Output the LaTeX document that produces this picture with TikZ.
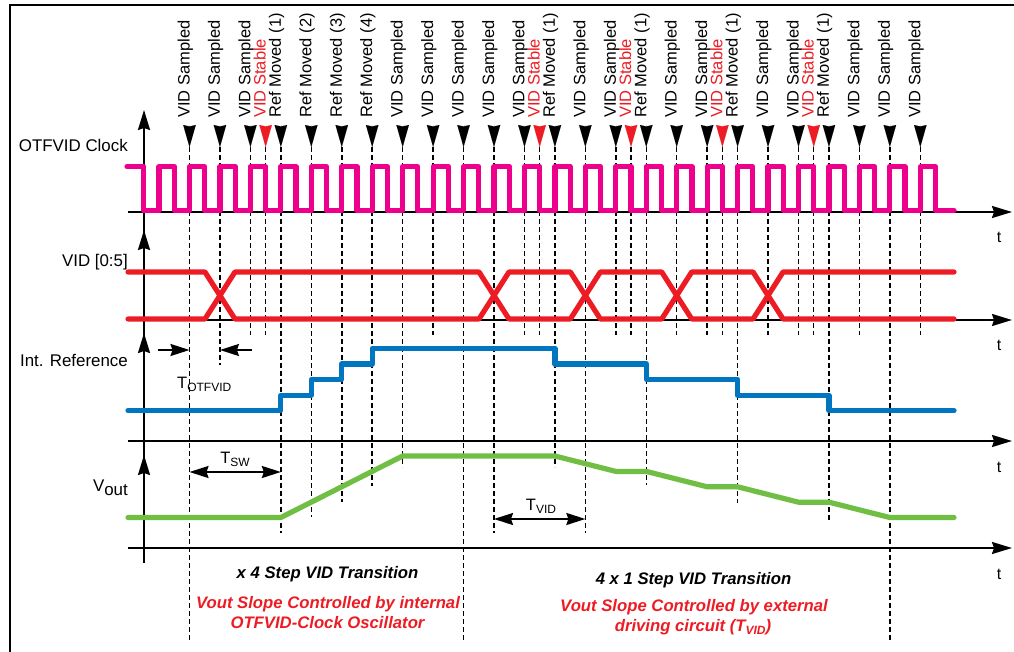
\documentclass[tikz,border=0pt]{standalone}
\usepackage{fontspec}
\setmainfont{Liberation Sans}
\usetikzlibrary{arrows.meta}
\definecolor{clockpink}{RGB}{236,0,140}
\definecolor{vidred}{RGB}{237,28,36}
\definecolor{refblue}{RGB}{0,118,192}
\definecolor{voutgreen}{RGB}{112,191,68}
\newcommand{\tpos}[1]{189.5+30.45*(#1)}
\newcommand{\lowsub}[1]{\raisebox{-3pt}{\fontsize{12}{12}\selectfont #1}}

\begin{document}
\begin{tikzpicture}[
    x=1pt, y=-1pt,
    font=\fontsize{16.5}{19}\selectfont,
    taxis/.style={line width=1.8pt, -{Stealth[length=20pt, width=12pt, inset=2pt]}},
    dimarrow/.style={line width=1.8pt, -{Stealth[length=19pt, width=12pt, inset=2pt]}},
    dimboth/.style={line width=1.8pt, {Stealth[length=19pt, width=12pt, inset=2pt]}-{Stealth[length=19pt, width=12pt, inset=2pt]}},
    wave/.style={line width=5.2pt, line join=round, line cap=round},
    vguide/.style={line width=1.5pt, dash pattern=on 5pt off 3pt},
    evtip/.style={line width=0.01pt, -{Stealth[length=22pt, width=12.5pt, inset=1.5pt]}},
    evlabel/.style={rotate=90, anchor=base west, inner sep=0pt},
    siglabel/.style={anchor=base east, inner sep=0pt, font=\fontsize{16.9}{19}\selectfont},
    tlabel/.style={inner sep=0pt, font=\fontsize{16}{18}\selectfont},
    note/.style={anchor=base, inner sep=0pt, font=\fontsize{16.7}{19}\selectfont\bfseries\itshape}
]
    \useasboundingbox (0,0) rectangle (1014,652);
    \draw[line width=2pt] (9.5,5) rectangle (1040,680);

    \foreach \k/\col/\txt/\yend [count=\n] in {
        0/black/VID Sampled/640, 1/black/VID Sampled/365, 2/black/VID Sampled/335,
        2.5/vidred/VID Stable/335, 3/black/Ref Moved (1)/533, 4/black/Ref Moved (2)/517,
        5/black/Ref Moved (3)/502, 6/black/Ref Moved (4)/486, 7/black/VID Sampled/467,
        8/black/VID Sampled/335, 9/black/VID Sampled/640, 10/black/VID Sampled/533,
        11/black/VID Sampled/335, 11.5/vidred/VID Stable/335, 12/black/Ref Moved (1)/467,
        13/black/VID Sampled/533, 14/black/VID Sampled/335, 14.5/vidred/VID Stable/335,
        15/black/Ref Moved (1)/485, 16/black/VID Sampled/335, 17/black/VID Sampled/335,
        17.5/vidred/VID Stable/335, 18/black/Ref Moved (1)/503, 19/black/VID Sampled/335,
        20/black/VID Sampled/335, 20.5/vidred/VID Stable/335, 21/black/Ref Moved (1)/520,
        22/black/VID Sampled/335, 23/black/VID Sampled/640, 24/black/VID Sampled/335}
    {
        \draw[vguide] ({\tpos{\k}},147) -- ({\tpos{\k}},\yend);
        \draw[evtip, \col] ({\tpos{\k}},125) -- ({\tpos{\k}},147);
        \node[evlabel, text=\col] (ev\n) at ({\tpos{\k}},118) {\txt};
    }

    \draw[line width=1.8pt] (144,563) -- (144,212);
    \draw[taxis] (144,212) -- (144,110);
    \draw[taxis] (144,320) -- (144,230);
    \draw[taxis] (144,441) -- (144,333);
    \draw[taxis] (144,548) -- (144,455);
    \draw[taxis] (128,212) -- (1012,212);
    \draw[taxis] (128,320) -- (1012,320);
    \draw[taxis] (128,441) -- (1012,441);
    \draw[taxis] (128,548) -- (1012,548);

    \node[siglabel] (clk) at (128,151.5) {OTFVID Clock};
    \node[siglabel] (vid) at (128,267) {VID [0:5]};
    \node[siglabel] (iref) at (128,366.5) {Int. Reference};
    \node[siglabel] (vout) at (128,491) {V\raisebox{-4pt}{out}};
    \node[tlabel] (t1) at (999,237) {t};
    \node[tlabel] (t2) at (999,345) {t};
    \node[tlabel] (t3) at (999,467) {t};
    \node[tlabel] (t4) at (999,574) {t};

    \draw[wave, clockpink] (127,166.7) -- ({\tpos{-1.5}},166.7) -- ({\tpos{-1.5}},210.7)
        \foreach \k in {-1,...,24} {
            -- ({\tpos{\k}},210.7) -- ({\tpos{\k}},166.7)
            -- ({\tpos{\k}+15.2},166.7) -- ({\tpos{\k}+15.2},210.7)
        } -- (954,210.7);

    \draw[wave, vidred] (128,272) -- ({\tpos{1}-15},272) -- ({\tpos{1}+15},319)
        -- ({\tpos{10}-15},319) -- ({\tpos{10}+15},272) -- ({\tpos{13}-15},272)
        -- ({\tpos{13}+15},319) -- ({\tpos{16}-15},319) -- ({\tpos{16}+15},272)
        -- ({\tpos{19}-15},272) -- ({\tpos{19}+15},319) -- (954,319);
    \draw[wave, vidred] (128,319) -- ({\tpos{1}-15},319) -- ({\tpos{1}+15},272)
        -- ({\tpos{10}-15},272) -- ({\tpos{10}+15},319) -- ({\tpos{13}-15},319)
        -- ({\tpos{13}+15},272) -- ({\tpos{16}-15},272) -- ({\tpos{16}+15},319)
        -- ({\tpos{19}-15},319) -- ({\tpos{19}+15},272) -- (954,272);

    \draw[wave, refblue] (128,410.7) -- ({\tpos{3}},410.7) -- ({\tpos{3}},395.1)
        -- ({\tpos{4}},395.1) -- ({\tpos{4}},379.5) -- ({\tpos{5}},379.5)
        -- ({\tpos{5}},363.9) -- ({\tpos{6}},363.9) -- ({\tpos{6}},348.3)
        -- ({\tpos{12}},348.3) -- ({\tpos{12}},363.9) -- ({\tpos{15}},363.9)
        -- ({\tpos{15}},379.5) -- ({\tpos{18}},379.5) -- ({\tpos{18}},395.1)
        -- ({\tpos{21}},395.1) -- ({\tpos{21}},410.7) -- (954,410.7);

    \draw[wave, voutgreen] (128,517.5) -- ({\tpos{3}},517.5) -- ({\tpos{7}},456)
        -- ({\tpos{12}},456) -- ({\tpos{14}},471.4) -- ({\tpos{15}},471.4)
        -- ({\tpos{17}},486.8) -- ({\tpos{18}},486.8) -- ({\tpos{20}},502.2)
        -- ({\tpos{21}},502.2) -- ({\tpos{23}},517.5) -- (954,517.5);

    \coordinate (otf0) at ({\tpos{0}},350);
    \coordinate (otf1) at ({\tpos{1}},350);
    \draw[dimarrow] (158,350) -- (otf0);
    \draw[dimarrow] (252,350) -- (otf1);
    \draw[dimboth] ({\tpos{0}},472) -- ({\tpos{3}},472);
    \draw[dimboth] ({\tpos{10}},519) -- ({\tpos{13}},519);
    \node[anchor=base west, inner sep=0pt] (totf) at (177,388) {T\lowsub{OTFVID}};
    \node[anchor=base, inner sep=0pt] (tsw) at (235,463.5) {T\lowsub{SW}};
    \node[anchor=base, inner sep=0pt] (tvid) at (541,510) {T\lowsub{VID}};

    \node[note] (step4) at (327.5,578) {x 4 Step VID Transition};
    \node[note, text=vidred] (int1) at (328,608.5) {Vout Slope Controlled by internal};
    \node[note, text=vidred] (int2) at (327.5,628.5) {OTFVID-Clock Oscillator};
    \node[note] (step1) at (693.5,584) {4 x 1 Step VID Transition};
    \node[note, text=vidred] (ext1) at (694,611) {Vout Slope Controlled by external};
    \node[note, text=vidred] (ext2) at (693,631) {driving circuit (T\lowsub{VID})};
\end{tikzpicture}
\end{document}
